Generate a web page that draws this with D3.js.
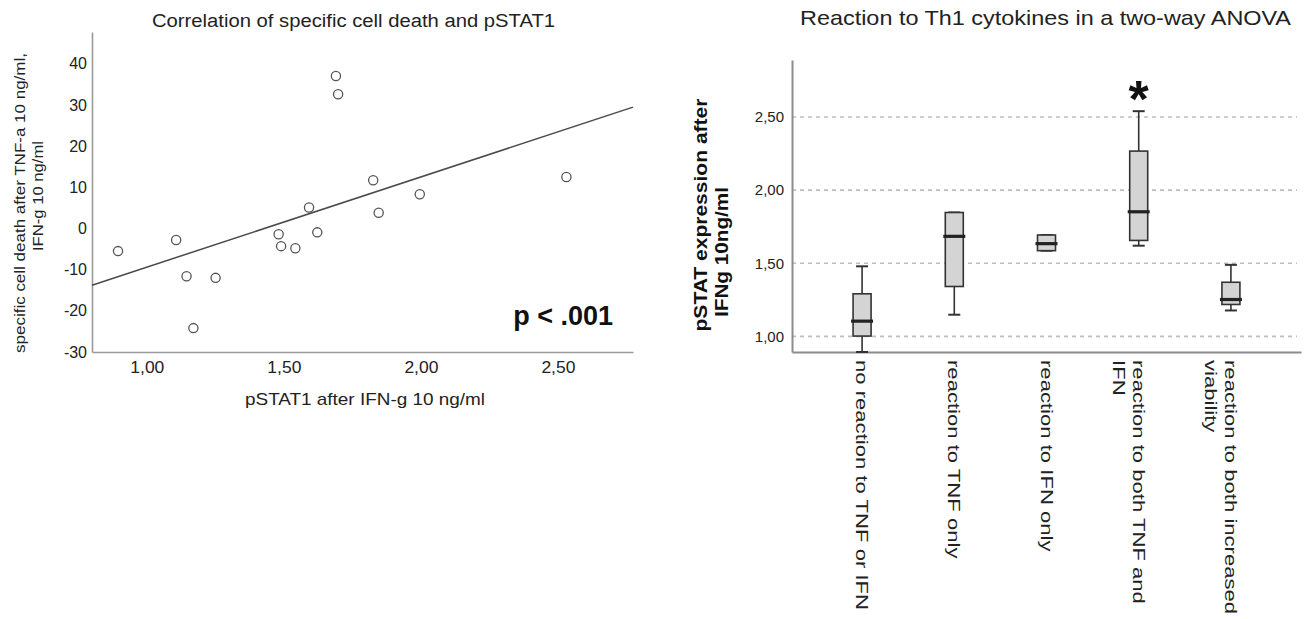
<!DOCTYPE html>
<html>
<head>
<meta charset="utf-8">
<script src="https://cdn.jsdelivr.net/npm/d3@7"></script>
<style>
  html, body { margin: 0; padding: 0; background: #fff; }
  svg { display: block; font-family: "Liberation Sans", Arial, sans-serif; }
</style>
</head>
<body>
<svg id="chart" width="1306" height="619"></svg>
<script>
// ---------- Left panel data (scatter) ----------
const scatterX = [0.895, 1.107, 1.145, 1.170, 1.251, 1.481, 1.490, 1.542, 1.592, 1.622, 1.690, 1.698, 1.826, 1.846, 1.996, 2.531];
const scatterY = [-5.5, -2.8, -11.6, -24.2, -12.0, -1.4, -4.3, -4.8, 5.1, -0.95, 37.0, 32.6, 11.7, 3.8, 8.3, 12.5];
const fitIntercept = -31.3;
const fitSlope = 21.9;
const xDomainL = [0.8, 2.774];
const yDomainL = [-30, 47.7];
const xTicksL = [1.0, 1.5, 2.0, 2.5];
const yTicksL = [-30, -20, -10, 0, 10, 20, 30, 40];
const titleL = "Correlation of specific cell death and pSTAT1";
const xTitleL = "pSTAT1 after IFN-g 10 ng/ml";
const yTitleL = ["specific cell death after TNF-a 10 ng/ml,", "IFN-g 10 ng/ml"];
const pLabel = "p < .001";

// ---------- Right panel data (box plots) ----------
const groups = ["no reaction to TNF or IFN", "reaction to TNF only", "reaction to IFN only", "reaction to both TNF and\nIFN", "reaction to both increased\nviability"];
const boxMin = [0.893, 1.148, 1.586, 1.620, 1.177];
const boxQ1  = [1.002, 1.341, 1.586, 1.656, 1.218];
const boxMed = [1.104, 1.684, 1.634, 1.852, 1.252];
const boxQ3  = [1.291, 1.847, 1.693, 2.267, 1.370];
const boxMax = [1.479, 1.847, 1.693, 2.540, 1.489];
const sigMarks = ["", "", "", "*", ""];
const yDomainR = [0.893, 2.89];
const yTicksR = [1.0, 1.5, 2.0, 2.5];
const titleR = "Reaction to Th1 cytokines in a two-way ANOVA";
const yTitleR = ["pSTAT expression after", "IFNg 10ng/ml"];

// ---------- helpers ----------
const comma2 = v => d3.format(".2f")(v).replace(".", ",");
const svg = d3.select("#chart");

// ================= LEFT PANEL =================
const xL = d3.scaleLinear().domain(xDomainL).range([92, 633]);
const yL = d3.scaleLinear().domain(yDomainL).range([352, 32]);
const gL = svg.append("g");

const axL = gL.append("g").attr("transform", "translate(92,0)")
  .call(d3.axisLeft(yL).tickValues(yTicksL).tickSize(0).tickPadding(5).tickFormat(d => String(d)));
const axB = gL.append("g").attr("transform", "translate(0,352)")
  .call(d3.axisBottom(xL).tickValues(xTicksL).tickSize(0).tickPadding(10).tickFormat(comma2));
[axL, axB].forEach(a => {
  a.select(".domain").attr("stroke", "#9a9a9a").attr("stroke-width", 1.6);
  a.selectAll("text").attr("font-size", 16).attr("fill", "#222").attr("font-family", "Liberation Sans, Arial, sans-serif");
});
axB.selectAll("text").attr("textLength", 34).attr("lengthAdjust", "spacingAndGlyphs");

// regression line
gL.append("line")
  .attr("x1", xL(xDomainL[0])).attr("y1", yL(fitIntercept + fitSlope * xDomainL[0]))
  .attr("x2", xL(xDomainL[1])).attr("y2", yL(fitIntercept + fitSlope * xDomainL[1]))
  .attr("stroke", "#4a4a4a").attr("stroke-width", 1.5);

// points
gL.selectAll("circle.pt").data(scatterX.map((x, i) => [x, scatterY[i]])).join("circle")
  .attr("class", "pt")
  .attr("cx", d => xL(d[0])).attr("cy", d => yL(d[1])).attr("r", 4.6)
  .attr("fill", "#fff").attr("stroke", "#555").attr("stroke-width", 1.3);

// titles
gL.append("text").attr("x", 353.5).attr("y", 26.5).attr("text-anchor", "middle")
  .attr("font-size", 18).attr("fill", "#222")
  .attr("textLength", 403).attr("lengthAdjust", "spacingAndGlyphs").text(titleL);
gL.append("text").attr("x", 365).attr("y", 405).attr("text-anchor", "middle")
  .attr("font-size", 17).attr("fill", "#222")
  .attr("textLength", 240).attr("lengthAdjust", "spacingAndGlyphs").text(xTitleL);
const yTL = [{x: 25, cy: 203, len: 300}, {x: 43, cy: 196, len: 110}];
yTitleL.forEach((t, i) => {
  gL.append("text")
    .attr("transform", `translate(${yTL[i].x},${yTL[i].cy}) rotate(-90)`)
    .attr("text-anchor", "middle").attr("font-size", 15).attr("fill", "#222")
    .attr("textLength", yTL[i].len).attr("lengthAdjust", "spacingAndGlyphs").text(t);
});
gL.append("text").attr("x", 613).attr("y", 325).attr("text-anchor", "end")
  .attr("font-size", 27).attr("font-weight", "bold").attr("fill", "#111").text(pLabel);

// ================= RIGHT PANEL =================
const xR = d3.scalePoint().domain(groups).range([792, 1301]).padding(0.76);
const yR = d3.scaleLinear().domain(yDomainR).range([352, 60]);
const gR = svg.append("g");

// gridlines
gR.selectAll("line.grid").data(yTicksR).join("line")
  .attr("class", "grid")
  .attr("x1", 792).attr("x2", 1297)
  .attr("y1", d => yR(d)).attr("y2", d => yR(d))
  .attr("stroke", "#bdbdbd").attr("stroke-width", 1.6).attr("stroke-dasharray", "4,4");

const axRL = gR.append("g").attr("transform", "translate(792,0)")
  .call(d3.axisLeft(yR).tickValues(yTicksR).tickSize(0).tickPadding(8).tickFormat(comma2));
const axRB = gR.append("g").attr("transform", "translate(0,352)")
  .call(d3.axisBottom(xR).tickSize(0).tickFormat(() => ""));
[axRL, axRB].forEach(a => {
  a.select(".domain").attr("stroke", "#8c8c8c").attr("stroke-width", 2);
});
axRL.selectAll("text").attr("font-size", 15).attr("fill", "#222").attr("font-family", "Liberation Sans, Arial, sans-serif");

// category labels (rotated 90deg, reading downward)
groups.forEach(g => {
  const lines = g.split("\n");
  const t = gR.append("g").attr("transform", `translate(${xR(g)},352) rotate(90)`);
  lines.forEach((ln, j) => {
    t.append("text")
      .attr("transform", `translate(8,${6 + 20 * j}) scale(1.3,1)`)
      .attr("font-size", 17).attr("fill", "#222").text(ln);
  });
});

// boxes
const bw = 18, capW = 12, medW = 22;
groups.forEach((g, i) => {
  const cx = xR(g);
  const b = gR.append("g");
  b.append("line").attr("x1", cx).attr("x2", cx).attr("y1", yR(boxMin[i])).attr("y2", yR(boxQ1[i]))
    .attr("stroke", "#333").attr("stroke-width", 1.6);
  b.append("line").attr("x1", cx).attr("x2", cx).attr("y1", yR(boxQ3[i])).attr("y2", yR(boxMax[i]))
    .attr("stroke", "#333").attr("stroke-width", 1.6);
  [boxMin[i], boxMax[i]].forEach(v => {
    b.append("line").attr("x1", cx - capW / 2).attr("x2", cx + capW / 2).attr("y1", yR(v)).attr("y2", yR(v))
      .attr("stroke", "#333").attr("stroke-width", 2);
  });
  b.append("rect").attr("x", cx - bw / 2).attr("width", bw)
    .attr("y", yR(boxQ3[i])).attr("height", yR(boxQ1[i]) - yR(boxQ3[i]))
    .attr("fill", "#d4d4d4").attr("stroke", "#333").attr("stroke-width", 1.6);
  b.append("line").attr("x1", cx - medW / 2).attr("x2", cx + medW / 2)
    .attr("y1", yR(boxMed[i])).attr("y2", yR(boxMed[i]))
    .attr("stroke", "#222").attr("stroke-width", 3.2);
  if (sigMarks[i]) {
    b.append("text").attr("x", cx).attr("y", yR(boxMax[i]) + 6)
      .attr("text-anchor", "middle").attr("font-size", 52).attr("font-weight", "bold")
      .attr("fill", "#111").text(sigMarks[i]);
  }
});

// titles
gR.append("text").attr("x", 1045.5).attr("y", 25).attr("text-anchor", "middle")
  .attr("font-size", 21).attr("fill", "#222")
  .attr("textLength", 491).attr("lengthAdjust", "spacingAndGlyphs").text(titleR);
const yTR = [{x: 707, cy: 215, len: 233}, {x: 728, cy: 252, len: 130}];
yTitleR.forEach((t, i) => {
  gR.append("text")
    .attr("transform", `translate(${yTR[i].x},${yTR[i].cy}) rotate(-90)`)
    .attr("text-anchor", "middle").attr("font-size", 19).attr("font-weight", "bold").attr("fill", "#111")
    .attr("textLength", yTR[i].len).attr("lengthAdjust", "spacingAndGlyphs").text(t);
});
</script>
</body>
</html>
